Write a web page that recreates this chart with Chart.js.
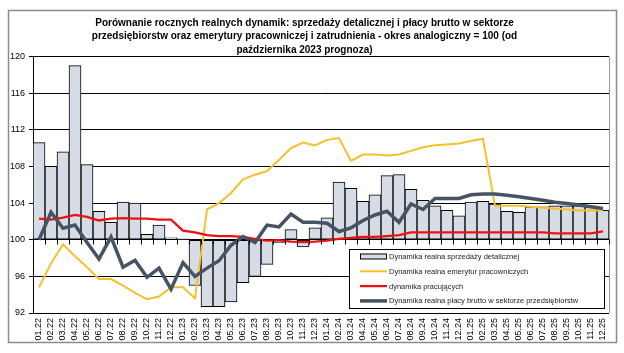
<!DOCTYPE html>
<html>
<head>
<meta charset="utf-8">
<script src="https://cdn.jsdelivr.net/npm/chart.js@4.4.1/dist/chart.umd.min.js"></script>
<style>
  html, body { margin: 0; padding: 0; background: #fff; }
  #wrap { width: 624px; height: 353px; position: relative; }
</style>
</head>
<body>
<div id="wrap"><canvas id="chart"></canvas></div>
<script>
const months = ["01", "02", "03", "04", "05", "06", "07", "08", "09", "10", "11", "12"];
const years = ["22", "23", "24", "25"];
const labels = [];
years.forEach(y => months.forEach(m => labels.push(m + "." + y)));

const sprzedaz = [110.6, 108.0, 109.6, 119.0, 108.2, 103.1, 101.9, 104.1, 104.0, 100.6, 101.6, 100.2,
  100.1, 95.0, 92.7, 92.7, 93.2, 95.3, 96.0, 97.3, 99.7, 101.1, 99.2, 101.3,
  102.4, 106.3, 105.6, 104.2, 104.9, 107.0, 107.1, 105.5, 104.3, 103.7, 103.2, 102.6,
  104.1, 104.2, 103.9, 103.1, 103.0, 103.6, 103.6, 103.7, 103.7, 103.7, 103.6, 103.2];
const emerytury = [94.8, 97.4, 99.5, 98.2, 97.0, 95.7, 95.7, 95.0, 94.2, 93.5, 93.8, 94.8,
  94.8, 93.6, 103.3, 104.0, 105.1, 106.6, 107.1, 107.5, 108.7, 110.0, 110.6, 110.3,
  110.9, 111.1, 108.6, 109.3, 109.3, 109.2, 109.3, 109.7, 110.1, 110.3, 110.4, 110.5,
  110.8, 111.0, 103.7, 103.7, 103.7, 103.6, 103.5, 103.4, 103.3, 103.2, 103.2, 103.2];
const pracujacy = [102.3, 102.2, 102.4, 102.7, 102.5, 102.1, 102.3, 102.35, 102.3, 102.3, 102.2, 102.2,
  101.0, 100.8, 100.5, 100.4, 100.4, 100.3, 100.1, 99.9, 99.95, 99.8, 99.75, 99.8,
  99.9, 100.1, 100.2, 100.3, 100.3, 100.4, 100.5, 100.8, 100.8, 100.8, 100.8, 100.8,
  100.8, 100.8, 100.8, 100.8, 100.8, 100.8, 100.8, 100.7, 100.7, 100.7, 100.7, 100.9];
const placa = [100.0, 103.0, 101.25, 101.6, 99.7, 97.9, 100.3, 97.0, 97.75, 95.9, 96.9, 94.6,
  97.5, 96.0, 96.9, 97.7, 99.4, 100.35, 99.7, 101.6, 101.4, 102.8, 101.9, 101.9,
  101.8, 100.9, 101.3, 102.1, 102.7, 103.1, 101.9, 103.9, 103.3, 104.5, 104.5, 104.5,
  104.9, 105.0, 105.0, 104.85, 104.7, 104.5, 104.3, 104.1, 103.95, 103.8, 103.6, 103.4];
const yTicks = [92, 96, 100, 104, 108, 112, 116, 120];

const titleLines = [
  "Porównanie rocznych realnych dynamik: sprzedaży detalicznej i płacy brutto w sektorze",
  "przedsiębiorstw oraz emerytury pracowniczej i zatrudnienia - okres analogiczny = 100 (od",
  "października 2023 prognoza)"
];

const FONT = "'Liberation Sans', Arial, sans-serif";

// frame, axis ticks on the 100 line, and the boxed legend inside the plot
const extras = {
  id: "extras",
  beforeDraw(chart) {
    const ctx = chart.ctx;
    ctx.save();
    ctx.fillStyle = "#fff";
    ctx.fillRect(0, 0, chart.width, chart.height);
    ctx.strokeStyle = "#8c8c8c";
    ctx.lineWidth = 1.5;
    ctx.strokeRect(8.5, 10.5, 608, 332);
    ctx.restore();
  },
  afterDatasetsDraw(chart) {
    const ctx = chart.ctx;
    const x = chart.scales.x, y = chart.scales.y;
    const a = chart.chartArea;
    ctx.save();
    // plot area right border
    ctx.strokeStyle = "#9a9a9a";
    ctx.lineWidth = 1;
    ctx.beginPath();
    ctx.moveTo(Math.round(a.right) + 0.5, a.top);
    ctx.lineTo(Math.round(a.right) + 0.5, a.bottom);
    ctx.stroke();
    // category ticks on the axis at 100
    const y100 = Math.round(y.getPixelForValue(100)) + 0.5;
    const step = x.getPixelForValue(1) - x.getPixelForValue(0);
    ctx.strokeStyle = "#000";
    ctx.beginPath();
    for (let i = 0; i <= labels.length; i++) {
      const px = Math.round(x.getPixelForValue(0) - step / 2 + i * step) + 0.5;
      ctx.moveTo(px, y100 - 1);
      ctx.lineTo(px, y100 + 4);
    }
    ctx.stroke();
    ctx.restore();
  },
  afterDraw(chart) {
    const ctx = chart.ctx;
    ctx.save();
    const bx = 349.5, by = 249.5, bw = 255, bh = 59;
    ctx.fillStyle = "#fff";
    ctx.fillRect(bx, by, bw, bh);
    ctx.strokeStyle = "#000";
    ctx.lineWidth = 1;
    ctx.strokeRect(bx, by, bw, bh);
    ctx.font = "7.5px " + FONT;
    ctx.textBaseline = "middle";
    ctx.textAlign = "left";
    chart.data.datasets.forEach((ds, i) => {
      const ry = 256.5 + i * 14.8;
      if (ds.type === "line") {
        ctx.strokeStyle = ds.borderColor;
        ctx.lineWidth = ds.borderWidth;
        ctx.beginPath();
        ctx.moveTo(360, ry);
        ctx.lineTo(387, ry);
        ctx.stroke();
      } else {
        ctx.fillStyle = ds.backgroundColor;
        ctx.fillRect(360.5, ry - 2.5, 26, 5);
        ctx.strokeStyle = "#000";
        ctx.lineWidth = 1;
        ctx.strokeRect(360.5, ry - 2.5, 26, 5);
      }
      ctx.fillStyle = "#222";
      ctx.fillText(ds.label, 389, ry + 0.5);
    });
    ctx.restore();
  }
};

const chart = new Chart(document.getElementById("chart"), {
  type: "bar",
  data: {
    labels: labels,
    datasets: [
      {
        type: "bar",
        label: "Dynamika realna sprzedaży detalicznej",
        data: sprzedaz,
        base: 100,
        backgroundColor: "#d6dce6",
        borderColor: "#000",
        borderWidth: 1,
        borderSkipped: false,
        categoryPercentage: 1,
        barPercentage: 1,
        order: 4
      },
      {
        type: "line",
        label: "Dynamika realna emerytur pracowniczych",
        data: emerytury,
        borderColor: "#f5c02c",
        borderWidth: 2,
        pointRadius: 0,
        tension: 0,
        order: 3
      },
      {
        type: "line",
        label: "dynamika pracujących",
        data: pracujacy,
        borderColor: "#f01010",
        borderWidth: 2.3,
        pointRadius: 0,
        tension: 0,
        order: 2
      },
      {
        type: "line",
        label: "Dynamika realna płacy brutto w sektorze przedsiębiorstw",
        data: placa,
        borderColor: "#465364",
        borderWidth: 3.5,
        pointRadius: 0,
        tension: 0,
        order: 1
      }
    ]
  },
  options: {
    responsive: true,
    maintainAspectRatio: false,
    animation: false,
    layout: { padding: { left: 0, right: 15, top: 0, bottom: 10 } },
    plugins: {
      legend: { display: false },
      tooltip: { enabled: false },
      title: {
        display: true,
        text: titleLines,
        color: "#000",
        font: { family: FONT, size: 10, weight: "bold", lineHeight: 1.35 },
        padding: { top: 16, bottom: 0 }
      }
    },
    scales: {
      x: {
        grid: { display: false, drawTicks: false },
        border: { display: false },
        ticks: {
          color: "#000",
          font: { family: FONT, size: 9 },
          minRotation: 90,
          maxRotation: 90,
          autoSkip: false,
          padding: 5
        },
        afterFit: s => { s.height = 30; }
      },
      y: {
        min: 92,
        max: 120,
        afterBuildTicks: s => { s.ticks = yTicks.map(v => ({ value: v })); },
        grid: { color: "#000", lineWidth: 1, tickLength: 4, tickColor: "#000" },
        border: { color: "#000", width: 1 },
        ticks: {
          color: "#000",
          font: { family: FONT, size: 9 },
          padding: 4
        },
        afterFit: s => { s.width = 33; }
      }
    }
  },
  plugins: [extras]
});
</script>
</body>
</html>
